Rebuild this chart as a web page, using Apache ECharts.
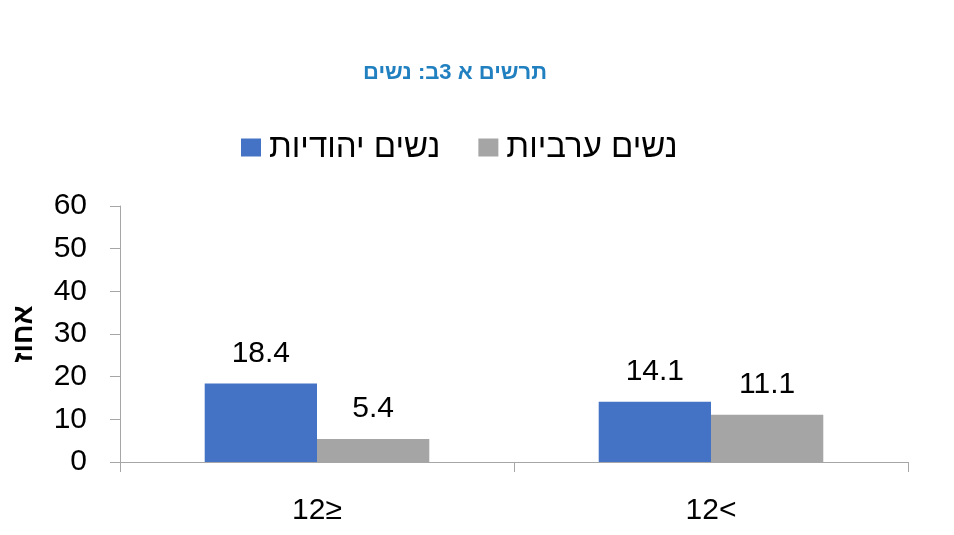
<!DOCTYPE html>
<html lang="he">
<head>
<meta charset="UTF-8" />
<title>תרשים א 3ב: נשים</title>
<style>
  html, body { margin: 0; padding: 0; background: #fff; }
  #main { width: 954px; height: 535px; }
</style>
</head>
<body>
<div id="main"></div>
<script src="https://cdn.jsdelivr.net/npm/echarts@6/dist/echarts.min.js"></script>
<script>
  // data
  var categories = ['12≥', '12<'];
  var jewishWomen = [18.4, 14.1];
  var arabWomen = [5.4, 11.1];
  var seriesNames = ['נשים יהודיות', 'נשים ערביות'];
  var yTicks = [0, 10, 20, 30, 40, 50, 60];

  var font = "'Liberation Sans', 'DejaVu Sans', Arial, sans-serif";
  var axisColor = '#a6a6a6';

  var myChart = echarts.init(document.getElementById('main'));

  var labelStyle = {
    show: true,
    position: 'top',
    distance: 15,
    fontSize: 30,
    fontFamily: font,
    color: '#000'
  };

  var option = {
    animation: false,
    textStyle: { fontFamily: font },
    title: {
      text: 'תרשים א 3ב: נשים',
      left: 358,
      top: 57,
      textStyle: {
        fontSize: 22,
        fontWeight: 'bold',
        fontFamily: font,
        color: '#2180c0'
      }
    },
    legend: {
      data: seriesNames,
      left: 236,
      top: 126,
      icon: 'rect',
      itemWidth: 20,
      itemHeight: 18,
      itemGap: 38,
      textStyle: { fontSize: 33, fontFamily: font, color: '#000', padding: [0, 0, 0, 3] }
    },
    grid: { left: 120, right: 46, top: 206, bottom: 73, containLabel: false },
    xAxis: {
      type: 'category',
      data: categories,
      axisLine: { lineStyle: { color: axisColor } },
      axisTick: { show: true, length: 10, lineStyle: { color: axisColor } },
      axisLabel: { fontSize: 30, fontFamily: font, color: '#000', margin: 34 }
    },
    yAxis: {
      type: 'value',
      min: yTicks[0],
      max: yTicks[yTicks.length - 1],
      interval: 10,
      name: 'אחוז',
      nameLocation: 'middle',
      nameGap: 82,
      nameRotate: 90,
      nameTextStyle: { fontSize: 28, fontWeight: 'bold', fontFamily: font, color: '#000' },
      axisLine: { show: true, lineStyle: { color: axisColor } },
      axisTick: { show: true, length: 10, lineStyle: { color: axisColor } },
      axisLabel: { fontSize: 30, fontFamily: font, color: '#000', margin: 33 },
      splitLine: { show: false }
    },
    series: [
      {
        name: seriesNames[0],
        type: 'bar',
        data: jewishWomen,
        barGap: '0%',
        barCategoryGap: '43%',
        itemStyle: { color: '#4472c4' },
        label: labelStyle
      },
      {
        name: seriesNames[1],
        type: 'bar',
        data: arabWomen,
        barGap: '0%',
        barCategoryGap: '43%',
        itemStyle: { color: '#a5a5a5' },
        label: labelStyle
      }
    ]
  };

  myChart.setOption(option);
</script>
</body>
</html>
